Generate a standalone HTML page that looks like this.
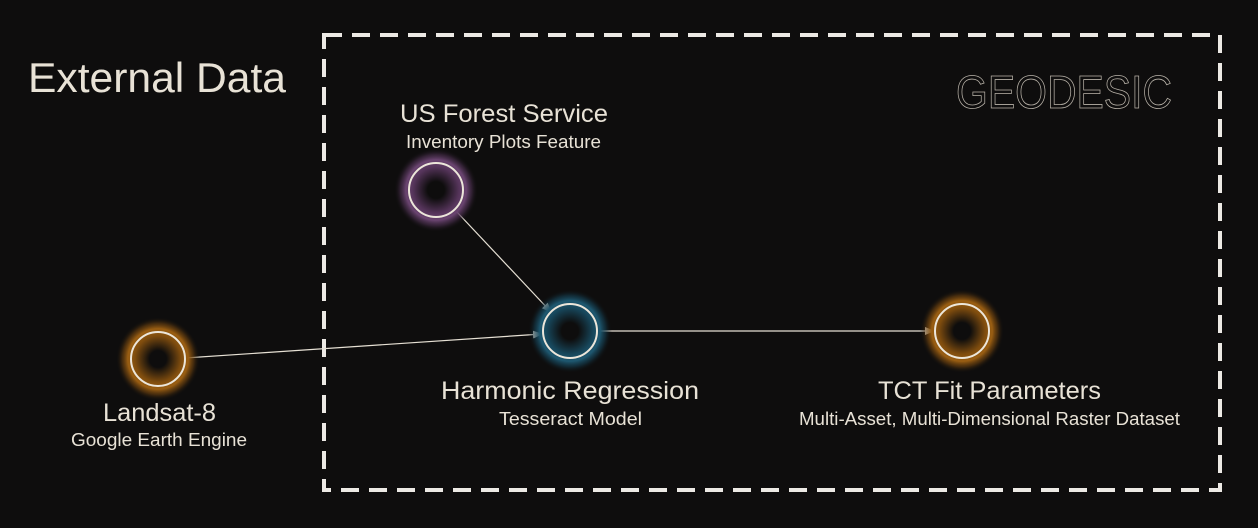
<!DOCTYPE html>
<html><head><meta charset="utf-8"><style>
html,body{margin:0;padding:0;background:#0e0d0d;}
svg{display:block;font-family:"Liberation Sans",sans-serif;}
</style></head><body>
<svg width="1258" height="528" viewBox="0 0 1258 528" xmlns="http://www.w3.org/2000/svg">
<defs>
<radialGradient id="gO"><stop offset="0.2" stop-color="#0e0d0d"/><stop offset="0.55" stop-color="#7e4c0e"/><stop offset="0.72" stop-color="#9a5e12"/><stop offset="0.85" stop-color="#6a400e" stop-opacity="0.6"/><stop offset="1" stop-color="#0e0d0d" stop-opacity="0"/></radialGradient>
<radialGradient id="gP"><stop offset="0.2" stop-color="#0e0d0d"/><stop offset="0.55" stop-color="#55345a"/><stop offset="0.72" stop-color="#6a4470"/><stop offset="0.85" stop-color="#4a2f4e" stop-opacity="0.6"/><stop offset="1" stop-color="#0e0d0d" stop-opacity="0"/></radialGradient>
<radialGradient id="gB"><stop offset="0.2" stop-color="#0e0d0d"/><stop offset="0.55" stop-color="#17465a"/><stop offset="0.72" stop-color="#1e5870"/><stop offset="0.85" stop-color="#143d4f" stop-opacity="0.6"/><stop offset="1" stop-color="#0e0d0d" stop-opacity="0"/></radialGradient>
<marker id="ar" markerWidth="10" markerHeight="8" refX="9" refY="4" orient="auto" markerUnits="userSpaceOnUse"><path d="M0,0 L10,4 L0,8 z" fill="#e6e0d4"/></marker>
</defs>
<rect x="324" y="35" width="896" height="455" fill="none" stroke="#ece9e4" stroke-width="4" stroke-dasharray="18 10"/>
<text x="28" y="92" font-size="42" fill="#e8e2d6" textLength="258" lengthAdjust="spacingAndGlyphs">External Data</text>
<text x="956" y="108" font-size="46" fill="none" stroke="#b8b2a8" stroke-width="0.8" textLength="216" lengthAdjust="spacingAndGlyphs">GEODESIC</text>
<line x1="185" y1="358" x2="542" y2="334" stroke="#e6e0d4" stroke-width="1.2" marker-end="url(#ar)"/>
<line x1="456" y1="211" x2="551" y2="312" stroke="#e6e0d4" stroke-width="1.2" marker-end="url(#ar)"/>
<line x1="598" y1="331" x2="934" y2="331" stroke="#e6e0d4" stroke-width="1.2" marker-end="url(#ar)"/>
<g>
<circle cx="158" cy="359" r="42" fill="url(#gO)"/><circle cx="158" cy="359" r="27" fill="none" stroke="#ece6da" stroke-width="2"/>
<text x="103" y="421" font-size="25" fill="#e8e2d6" textLength="113" lengthAdjust="spacingAndGlyphs">Landsat-8</text>
<text x="71" y="446" font-size="18" fill="#e8e2d6" textLength="176" lengthAdjust="spacingAndGlyphs">Google Earth Engine</text></g>
<g>
<circle cx="436" cy="190" r="42" fill="url(#gP)"/><circle cx="436" cy="190" r="27" fill="none" stroke="#ece6da" stroke-width="2"/>
<text x="400" y="122" font-size="25" fill="#e8e2d6" textLength="208" lengthAdjust="spacingAndGlyphs">US Forest Service</text>
<text x="406" y="148" font-size="18" fill="#e8e2d6" textLength="195" lengthAdjust="spacingAndGlyphs">Inventory Plots Feature</text></g>
<g>
<circle cx="570" cy="331" r="42" fill="url(#gB)"/><circle cx="570" cy="331" r="27" fill="none" stroke="#ece6da" stroke-width="2"/>
<text x="441" y="399" font-size="25" fill="#e8e2d6" textLength="258" lengthAdjust="spacingAndGlyphs">Harmonic Regression</text>
<text x="499" y="425" font-size="18" fill="#e8e2d6" textLength="143" lengthAdjust="spacingAndGlyphs">Tesseract Model</text></g>
<g>
<circle cx="962" cy="331" r="42" fill="url(#gO)"/><circle cx="962" cy="331" r="27" fill="none" stroke="#ece6da" stroke-width="2"/>
<text x="878" y="399" font-size="25" fill="#e8e2d6" textLength="223" lengthAdjust="spacingAndGlyphs">TCT Fit Parameters</text>
<text x="799" y="425" font-size="18" fill="#e8e2d6" textLength="381" lengthAdjust="spacingAndGlyphs">Multi-Asset, Multi-Dimensional Raster Dataset</text></g>
</svg>
</body></html>
